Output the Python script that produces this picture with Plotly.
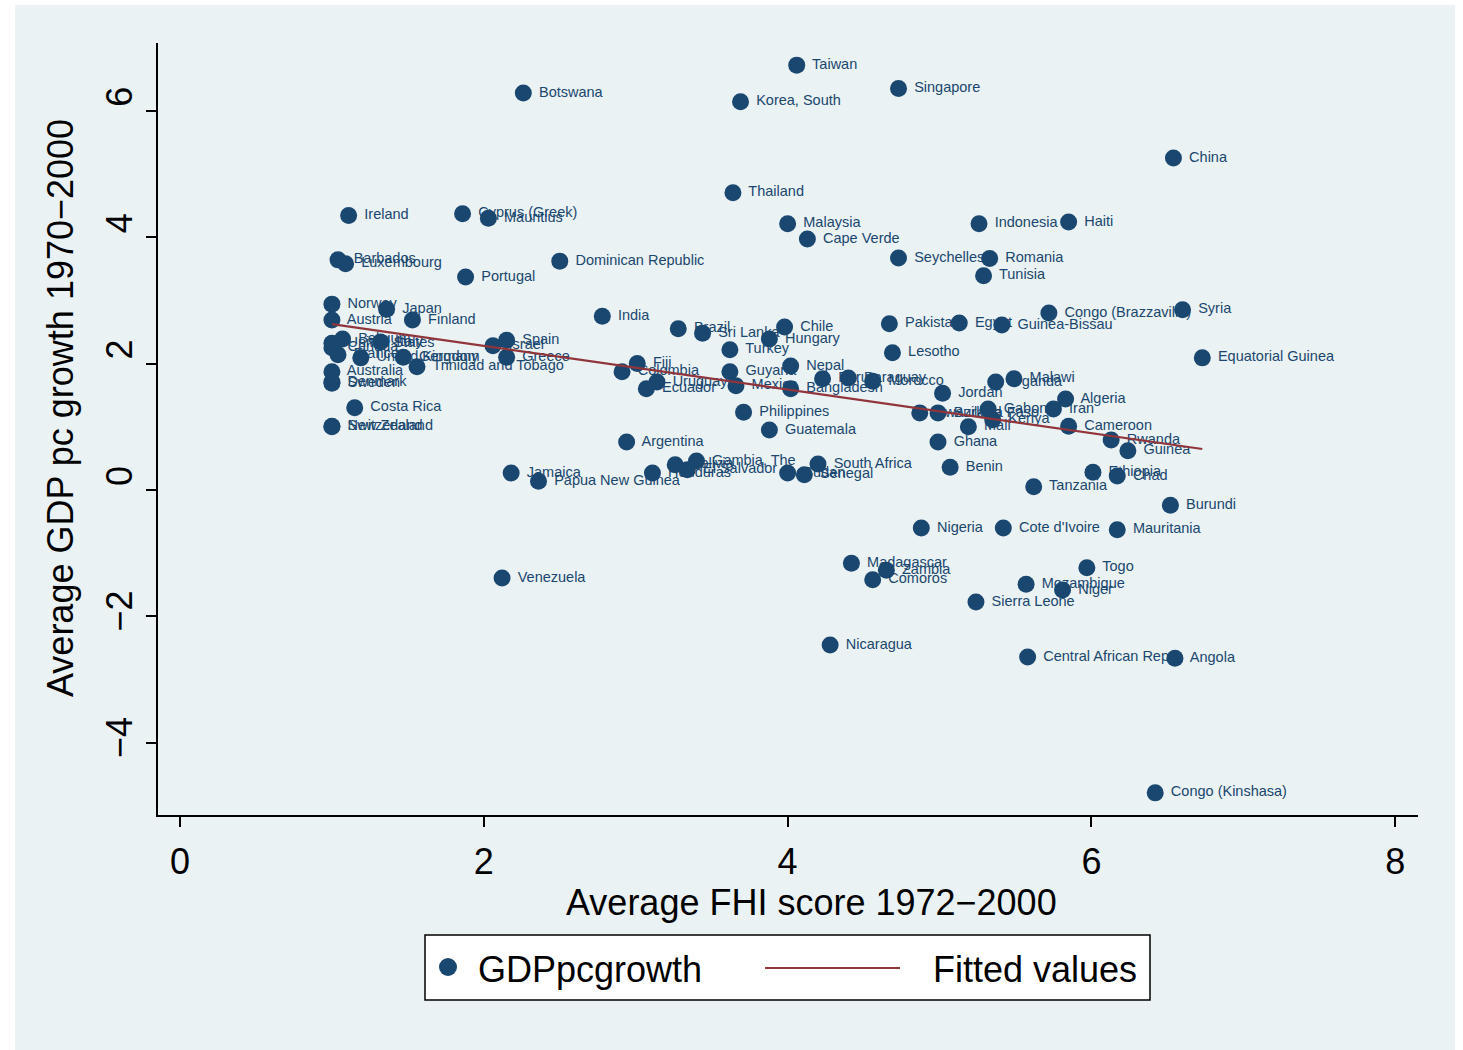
import numpy as np
import plotly.graph_objects as go

countries = ["Taiwan", "Botswana", "Singapore", "Korea, South", "China", "Thailand", "Ireland",
             "Cyprus (Greek)", "Mauritius", "Malaysia", "Indonesia", "Haiti", "Cape Verde", "Barbados",
             "Luxembourg", "Portugal", "Dominican Republic", "Seychelles", "Romania", "Tunisia", "India",
             "Norway", "Japan", "Austria", "Finland", "Brazil", "Sri Lanka", "Chile", "Hungary", "Turkey",
             "Pakistan", "Egypt", "Guinea-Bissau", "Congo (Brazzaville)", "Syria", "Lesotho",
             "Equatorial Guinea", "Belgium", "Italy", "Canada", "France", "United Kingdom", "Germany",
             "Trinidad and Tobago", "Australia", "Denmark", "Sweden", "United States", "Spain", "Israel",
             "Greece", "Costa Rica", "Switzerland", "New Zealand", "Fiji", "Colombia", "Uruguay", "Ecuador",
             "Guyana", "Mexico", "Nepal", "Bangladesh", "Peru", "Paraguay", "Morocco", "Philippines",
             "Guatemala", "Argentina", "Jamaica", "Papua New Guinea", "Honduras", "Bolivia", "El Salvador",
             "Gambia, The", "Sudan", "Senegal", "South Africa", "Jordan", "Uganda", "Malawi", "Algeria",
             "Iran", "Gabon", "Kenya", "Mali", "Burkina Faso", "Swaziland", "Cameroon", "Rwanda", "Guinea",
             "Ethiopia", "Chad", "Ghana", "Benin", "Tanzania", "Burundi", "Nigeria", "Cote d'Ivoire",
             "Mauritania", "Madagascar", "Zambia", "Comoros", "Togo", "Mozambique", "Niger", "Sierra Leone",
             "Venezuela", "Nicaragua", "Central African Rep.", "Angola", "Congo (Kinshasa)"]
fhi = [4.06, 2.26, 4.73, 3.69, 6.54, 3.64, 1.11,
       1.86, 2.03, 4.00, 5.26, 5.85, 4.13, 1.04,
       1.09, 1.88, 2.50, 4.73, 5.33, 5.29, 2.78,
       1.00, 1.36, 1.00, 1.53, 3.28, 3.44, 3.98, 3.88, 3.62,
       4.67, 5.13, 5.41, 5.72, 6.60, 4.69,
       6.73, 1.07, 1.32, 1.00, 1.04, 1.19, 1.47,
       1.56, 1.00, 1.00, 1.00, 1.00, 2.15, 2.06,
       2.15, 1.15, 1.00, 1.00, 3.01, 2.91, 3.14, 3.07,
       3.62, 3.66, 4.02, 4.02, 4.23, 4.40, 4.56, 3.71,
       3.88, 2.94, 2.18, 2.36, 3.11, 3.26, 3.34,
       3.40, 4.00, 4.11, 4.20, 5.02, 5.37, 5.49, 5.83,
       5.75, 5.32, 5.35, 5.19, 4.99, 4.87, 5.85, 6.13, 6.24,
       6.01, 6.17, 4.99, 5.07, 5.62, 6.52, 4.88, 5.42,
       6.17, 4.42, 4.65, 4.56, 5.97, 5.57, 5.81, 5.24,
       2.12, 4.28, 5.58, 6.55, 6.42]
growth = [6.72, 6.28, 6.35, 6.14, 5.25, 4.70, 4.34,
          4.37, 4.30, 4.21, 4.21, 4.24, 3.97, 3.64,
          3.58, 3.37, 3.62, 3.67, 3.66, 3.39, 2.75,
          2.94, 2.86, 2.69, 2.69, 2.55, 2.48, 2.58, 2.39, 2.22,
          2.63, 2.64, 2.61, 2.80, 2.85, 2.17,
          2.09, 2.39, 2.34, 2.25, 2.14, 2.09, 2.10,
          1.95, 1.87, 1.71, 1.69, 2.32, 2.37, 2.28,
          2.10, 1.30, 1.00, 1.01, 2.00, 1.87, 1.71, 1.60,
          1.87, 1.65, 1.96, 1.60, 1.76, 1.77, 1.72, 1.23,
          0.95, 0.76, 0.27, 0.14, 0.27, 0.40, 0.32,
          0.46, 0.27, 0.24, 0.41, 1.53, 1.71, 1.76, 1.44,
          1.28, 1.28, 1.11, 1.00, 1.22, 1.22, 1.01, 0.79, 0.62,
          0.28, 0.22, 0.76, 0.36, 0.05, -0.24, -0.60, -0.60,
          -0.63, -1.16, -1.27, -1.42, -1.23, -1.49, -1.58, -1.77,
          -1.39, -2.45, -2.64, -2.66, -4.79]

x_ticks = [0, 2, 4, 6, 8]
y_ticks = [-4, -2, 0, 2, 4, 6]
legend_labels = ["GDPpcgrowth", "Fitted values"]
x_title = "Average FHI score 1972\u22122000"
y_title = "Average GDP pc growth 1970\u22122000"

navy = "#1a476f"
maroon = "#90353b"
outer_bg = "#eaf2f3"

# Linear fit (Fitted values)
xa = np.array(fhi)
ya = np.array(growth)
slope, intercept = np.polyfit(xa, ya, 1)
fit_x = np.array([xa.min(), xa.max()])
fit_y = intercept + slope * fit_x

# plot area geometry in pixels
L, R, T, B = 158, 1418, 43, 815
W, H = R - L, B - T


def px(xp):
    return (xp - L) / W


def py(yp):
    return (B - yp) / H


def ytick_text(v):
    # Stata-style minus; single-digit labels sit slightly above their tick
    if v < 0:
        return "\u2212" + str(-v)
    return "\u00a0\u2009" + str(v)


fig = go.Figure()
fig.add_trace(go.Scatter(
    x=fhi, y=growth, text=countries, mode="markers+text",
    texttemplate=" %{text}",
    textposition="middle right",
    textfont=dict(family="Liberation Sans", size=14.5, color=navy),
    marker=dict(color=navy, size=17, line=dict(width=0)),
    name=legend_labels[0], cliponaxis=False, showlegend=False,
))
fig.add_trace(go.Scatter(
    x=fit_x, y=fit_y, mode="lines",
    line=dict(color=maroon, width=2.2),
    name=legend_labels[1], showlegend=False,
))

# outer light-blue background
fig.add_shape(type="rect", xref="paper", yref="paper",
              x0=px(15), x1=px(1455), y0=py(1050), y1=py(5),
              fillcolor=outer_bg, line=dict(width=0), layer="below")

# manual legend
fig.add_shape(type="rect", xref="paper", yref="paper",
              x0=px(425), x1=px(1150), y0=py(1000), y1=py(935),
              fillcolor="white", line=dict(color="black", width=1.5), layer="above")
fig.add_shape(type="circle", xref="paper", yref="paper",
              xsizemode="pixel", ysizemode="pixel",
              xanchor=px(448), yanchor=py(967), x0=-9, x1=9, y0=-9, y1=9,
              fillcolor=navy, line=dict(width=0), layer="above")
fig.add_shape(type="line", xref="paper", yref="paper",
              x0=px(765), x1=px(900), y0=py(968), y1=py(968),
              line=dict(color=maroon, width=2.2), layer="above")
fig.add_annotation(xref="paper", yref="paper", x=px(476), y=py(969),
                   xanchor="left", yanchor="middle", showarrow=False,
                   text=legend_labels[0], font=dict(size=36, color="black"))
fig.add_annotation(xref="paper", yref="paper", x=px(931), y=py(969),
                   xanchor="left", yanchor="middle", showarrow=False,
                   text=legend_labels[1], font=dict(size=36, color="black"))

# axis titles
fig.add_annotation(xref="paper", yref="paper", x=px(811), y=py(902),
                   xanchor="center", yanchor="middle", showarrow=False,
                   text=x_title, font=dict(size=36, color="black"))
fig.add_annotation(xref="paper", yref="paper", x=px(60), y=py(408),
                   xanchor="center", yanchor="middle", showarrow=False, textangle=-90,
                   text=y_title, font=dict(size=36, color="black"))

fig.update_layout(
    width=1463, height=1050,
    margin=dict(l=L, r=1463 - R, t=T, b=1050 - B),
    paper_bgcolor="white",
    plot_bgcolor="white",
    font=dict(family="Liberation Sans", color="black"),
    showlegend=False,
    xaxis=dict(
        range=[-0.145, 8.15], tickvals=x_ticks, ticktext=[str(v) for v in x_ticks],
        showgrid=False, zeroline=False, showline=True, linecolor="black", linewidth=1.5,
        ticks="outside", ticklen=10, tickcolor="black", tickwidth=1.5,
        tickfont=dict(size=36), ticklabelstandoff=4,
    ),
    yaxis=dict(
        range=[-5.14, 7.07], tickvals=y_ticks, ticktext=[ytick_text(v) for v in y_ticks],
        showgrid=True, gridcolor=outer_bg, gridwidth=2, zeroline=False,
        showline=True, linecolor="black", linewidth=1.5,
        ticks="outside", ticklen=10, tickcolor="black", tickwidth=1.5,
        tickfont=dict(size=36), tickangle=-90,
    ),
)

fig.write_html("out.html", post_script="document.body.style.margin='0';",
               config={"displayModeBar": False})
